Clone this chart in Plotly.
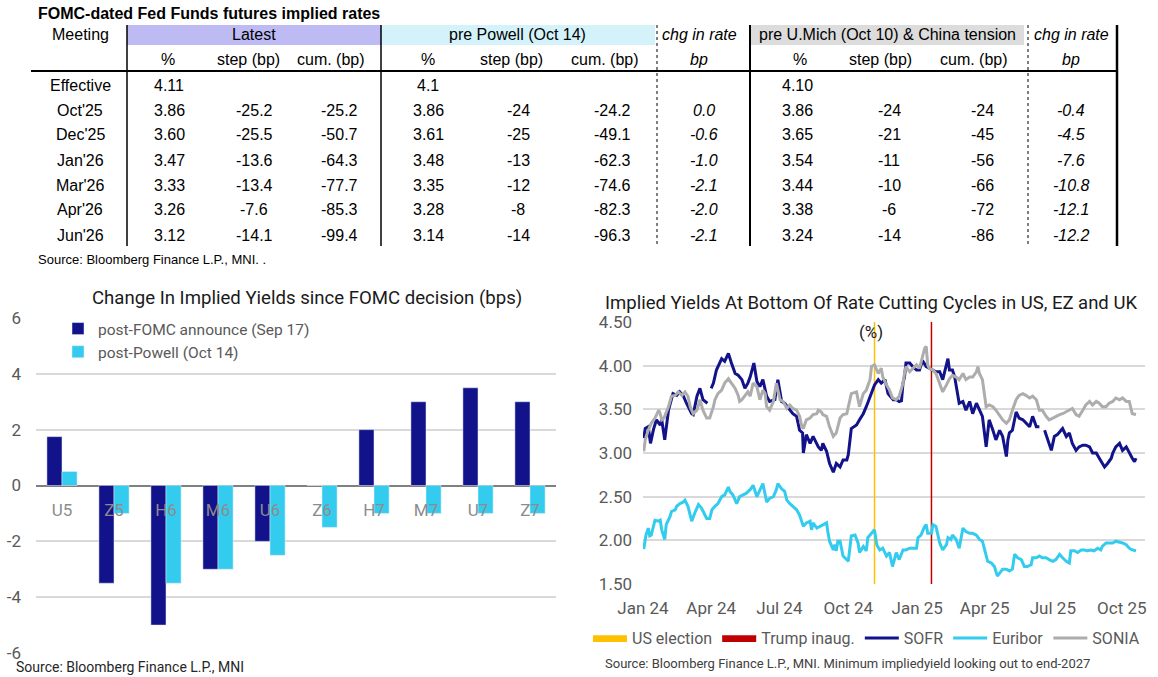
import plotly.graph_objects as go

W, H = 1158, 677

# ------------------------------------------------------------------ data: table
table_title = "FOMC-dated Fed Funds futures implied rates"
meeting_header = "Meeting"
group_headers = ["Latest", "pre Powell (Oct 14)", "chg in rate", "pre U.Mich (Oct 10) & China tension", "chg in rate"]
sub_headers = ["%", "step (bp)", "cum. (bp)", "%", "step (bp)", "cum. (bp)", "bp", "%", "step (bp)", "cum. (bp)", "bp"]
meetings = ["Effective", "Oct'25", "Dec'25", "Jan'26", "Mar'26", "Apr'26", "Jun'26"]
latest_pct = ["4.11", "3.86", "3.60", "3.47", "3.33", "3.26", "3.12"]
latest_step = ["", "-25.2", "-25.5", "-13.6", "-13.4", "-7.6", "-14.1"]
latest_cum = ["", "-25.2", "-50.7", "-64.3", "-77.7", "-85.3", "-99.4"]
powell_pct = ["4.1", "3.86", "3.61", "3.48", "3.35", "3.28", "3.14"]
powell_step = ["", "-24", "-25", "-13", "-12", "-8", "-14"]
powell_cum = ["", "-24.2", "-49.1", "-62.3", "-74.6", "-82.3", "-96.3"]
chg_vs_powell = ["", "0.0", "-0.6", "-1.0", "-2.1", "-2.0", "-2.1"]
umich_pct = ["4.10", "3.86", "3.65", "3.54", "3.44", "3.38", "3.24"]
umich_step = ["", "-24", "-21", "-11", "-10", "-6", "-14"]
umich_cum = ["", "-24", "-45", "-56", "-66", "-72", "-86"]
chg_vs_umich = ["", "-0.4", "-4.5", "-7.6", "-10.8", "-12.1", "-12.2"]
table_source = "Source: Bloomberg Finance L.P., MNI. ."

# ------------------------------------------------------------------ data: bar chart
bar_title = "Change In Implied Yields since FOMC decision (bps)"
contracts = ["U5", "Z5", "H6", "M6", "U6", "Z6", "H7", "M7", "U7", "Z7"]
post_fomc_name = "post-FOMC announce (Sep 17)"
post_fomc = [1.75, -3.5, -5.0, -3.0, -2.0, 0.0, 2.0, 3.0, 3.5, 3.0]
post_powell_name = "post-Powell (Oct 14)"
post_powell = [0.5, -1.0, -3.5, -3.0, -2.5, -1.5, -1.0, -1.0, -1.0, -1.0]
bar_ticks = [-6, -4, -2, 0, 2, 4, 6]
bar_tick_labels = ["-6", "-4", "-2", "0", "2", "4", "6"]
bar_source = "Source: Bloomberg Finance L.P., MNI"

# ------------------------------------------------------------------ data: line chart
line_title = "Implied Yields At Bottom Of Rate Cutting Cycles in US, EZ and UK"
line_unit = "(%)"
line_source = "Source: Bloomberg Finance L.P., MNI. Minimum impliedyield looking out to end-2027"
event_names = ["US election", "Trump inaug."]
event_dates = ["2024-11-05", "2025-01-20"]
line_x_range = ["2024-01-01", "2025-11-01"]
line_y_range = [1.5, 4.5]
line_x_ticks = ["2024-01-01", "2024-04-01", "2024-07-01", "2024-10-01",
                "2025-01-01", "2025-04-01", "2025-07-01", "2025-10-01"]

sofr = [
    ("2024-01-02", 3.17), ("2024-01-04", 3.28), ("2024-01-08", 3.30), ("2024-01-11", 3.11),
    ("2024-01-15", 3.27), ("2024-01-19", 3.38), ("2024-01-24", 3.32), ("2024-01-26", 3.38),
    ("2024-01-30", 3.15), ("2024-02-04", 3.49), ("2024-02-10", 3.68), ("2024-02-15", 3.66),
    ("2024-02-19", 3.70), ("2024-02-24", 3.65), ("2024-02-28", 3.57), ("2024-03-06", 3.45),
    ("2024-03-08", 3.44), ("2024-03-13", 3.65), ("2024-03-17", 3.74), ("2024-03-21", 3.61),
    ("2024-03-27", 3.57), ("2024-03-29", None), ("2024-04-01", 3.74), ("2024-04-04", 3.80),
    ("2024-04-08", 3.95), ("2024-04-15", 4.08), ("2024-04-19", 4.05), ("2024-04-24", 4.14),
    ("2024-04-28", 4.03), ("2024-05-03", 3.91), ("2024-05-07", 3.89), ("2024-05-12", 3.84),
    ("2024-05-16", 3.74), ("2024-05-20", 3.80), ("2024-05-23", 3.87), ("2024-05-28", 4.03),
    ("2024-06-01", 3.82), ("2024-06-05", 3.76), ("2024-06-09", 3.84), ("2024-06-14", 3.65),
    ("2024-06-18", 3.59), ("2024-06-25", 3.61), ("2024-06-29", 3.84), ("2024-07-04", 3.59),
    ("2024-07-08", 3.57), ("2024-07-15", 3.49), ("2024-07-19", 3.45), ("2024-07-24", 3.42),
    ("2024-07-28", 3.26), ("2024-08-01", 3.23), ("2024-08-02", 3.00), ("2024-08-06", 3.21),
    ("2024-08-11", 3.11), ("2024-08-15", 3.19), ("2024-08-22", 3.07), ("2024-08-26", 3.03),
    ("2024-08-28", 3.11), ("2024-09-02", 3.02), ("2024-09-06", 2.88), ("2024-09-11", 2.78),
    ("2024-09-15", 2.88), ("2024-09-20", 2.84), ("2024-09-24", 2.92), ("2024-09-29", 2.92),
    ("2024-10-01", 2.98), ("2024-10-05", 3.28), ("2024-10-12", 3.32), ("2024-10-16", 3.38),
    ("2024-10-21", 3.45), ("2024-10-25", 3.53), ("2024-11-01", 3.68), ("2024-11-05", 3.78),
    ("2024-11-10", 3.84), ("2024-11-14", 3.80), ("2024-11-19", 3.84), ("2024-11-23", 3.68),
    ("2024-11-30", 3.61), ("2024-12-04", 3.61), ("2024-12-08", 3.59), ("2024-12-11", 3.60),
    ("2024-12-13", 3.80), ("2024-12-15", 3.87), ("2024-12-17", 4.03), ("2024-12-22", 4.03),
    ("2024-12-26", 3.99), ("2024-12-31", 3.95), ("2025-01-04", 3.95), ("2025-01-08", 4.06),
    ("2025-01-13", 3.99), ("2025-01-17", 3.97), ("2025-01-22", 3.95), ("2025-01-26", 3.93),
    ("2025-01-31", 3.93), ("2025-02-04", 3.84), ("2025-02-06", 3.91), ("2025-02-11", 4.08),
    ("2025-02-13", 3.95), ("2025-02-17", 3.95), ("2025-02-20", 3.87), ("2025-02-22", 3.76),
    ("2025-02-26", 3.57), ("2025-03-03", 3.59), ("2025-03-07", 3.49), ("2025-03-12", 3.59),
    ("2025-03-16", 3.45), ("2025-03-21", 3.57), ("2025-03-25", 3.49), ("2025-03-29", 3.42),
    ("2025-04-03", 3.07), ("2025-04-07", 3.38), ("2025-04-12", 3.26), ("2025-04-16", 3.15),
    ("2025-04-21", 3.26), ("2025-04-25", 3.19), ("2025-04-30", 2.96), ("2025-05-02", 3.15),
    ("2025-05-04", 3.23), ("2025-05-08", 3.26), ("2025-05-13", 3.47), ("2025-05-17", 3.40),
    ("2025-05-22", 3.38), ("2025-05-26", 3.34), ("2025-05-31", 3.30), ("2025-06-04", 3.42),
    ("2025-06-09", 3.30), ("2025-06-13", 3.30), ("2025-06-16", None), ("2025-06-20", 3.26),
    ("2025-06-24", 3.15), ("2025-06-29", 3.03), ("2025-07-03", 3.19), ("2025-07-07", 3.21),
    ("2025-07-12", 3.26), ("2025-07-14", 3.28), ("2025-07-19", 3.19), ("2025-07-23", 3.23),
    ("2025-07-27", 3.11), ("2025-08-01", 3.03), ("2025-08-05", 3.07), ("2025-08-10", 3.09),
    ("2025-08-14", 3.09), ("2025-08-19", 3.07), ("2025-08-23", 3.00), ("2025-08-28", 3.00),
    ("2025-09-01", 2.94), ("2025-09-05", 2.88), ("2025-09-08", 2.84), ("2025-09-12", 2.88),
    ("2025-09-17", 2.94), ("2025-09-19", 3.00), ("2025-09-23", 3.07), ("2025-09-28", 3.11),
    ("2025-10-02", 3.03), ("2025-10-07", 3.07), ("2025-10-11", 3.00), ("2025-10-15", 2.94),
    ("2025-10-18", 2.90), ("2025-10-20", 2.94),
]

euribor = [
    ("2024-01-02", 1.90), ("2024-01-04", 2.05), ("2024-01-05", 2.06), ("2024-01-08", 2.14),
    ("2024-01-10", 2.05), ("2024-01-12", 2.06), ("2024-01-15", 2.16), ("2024-01-17", 2.23),
    ("2024-01-22", 2.22), ("2024-01-24", 2.23), ("2024-01-26", 2.12), ("2024-01-30", 2.01),
    ("2024-02-01", 2.18), ("2024-02-06", 2.27), ("2024-02-08", 2.33), ("2024-02-13", 2.35),
    ("2024-02-15", 2.39), ("2024-02-19", 2.42), ("2024-02-24", 2.44), ("2024-02-26", 2.46),
    ("2024-03-01", 2.39), ("2024-03-06", 2.22), ("2024-03-10", 2.31), ("2024-03-15", 2.41),
    ("2024-03-19", 2.37), ("2024-03-24", 2.27), ("2024-03-26", 2.25), ("2024-03-30", 2.25),
    ("2024-04-02", 2.35), ("2024-04-06", 2.39), ("2024-04-10", 2.42), ("2024-04-15", 2.50),
    ("2024-04-19", 2.52), ("2024-04-24", 2.61), ("2024-04-26", 2.56), ("2024-04-30", 2.52),
    ("2024-05-05", 2.42), ("2024-05-09", 2.50), ("2024-05-14", 2.52), ("2024-05-18", 2.54),
    ("2024-05-23", 2.58), ("2024-05-27", 2.63), ("2024-06-01", 2.50), ("2024-06-05", 2.58),
    ("2024-06-09", 2.65), ("2024-06-14", 2.44), ("2024-06-18", 2.48), ("2024-06-23", 2.50),
    ("2024-06-27", 2.58), ("2024-06-29", 2.65), ("2024-07-04", 2.59), ("2024-07-08", 2.56),
    ("2024-07-11", 2.46), ("2024-07-15", 2.42), ("2024-07-19", 2.39), ("2024-07-24", 2.35),
    ("2024-07-28", 2.29), ("2024-08-02", 2.16), ("2024-08-06", 2.20), ("2024-08-11", 2.22),
    ("2024-08-13", 2.12), ("2024-08-15", 2.20), ("2024-08-20", 2.14), ("2024-08-24", 2.16),
    ("2024-08-28", 2.18), ("2024-09-02", 2.20), ("2024-09-04", 2.08), ("2024-09-06", 1.99),
    ("2024-09-11", 1.89), ("2024-09-13", 1.95), ("2024-09-15", 1.88), ("2024-09-17", 1.99),
    ("2024-09-20", 1.99), ("2024-09-22", 1.89), ("2024-09-24", 1.82), ("2024-09-29", 1.78),
    ("2024-10-01", 1.76), ("2024-10-05", 2.05), ("2024-10-10", 2.06), ("2024-10-14", 1.97),
    ("2024-10-16", 1.86), ("2024-10-21", 1.93), ("2024-10-25", 1.88), ("2024-10-27", 2.03),
    ("2024-11-01", 2.08), ("2024-11-05", 2.12), ("2024-11-08", 1.95), ("2024-11-12", 1.89),
    ("2024-11-16", 1.91), ("2024-11-21", 1.82), ("2024-11-25", 1.86), ("2024-11-29", 1.70),
    ("2024-12-04", 1.86), ("2024-12-08", 1.78), ("2024-12-13", 1.89), ("2024-12-17", 1.89),
    ("2024-12-22", 1.91), ("2024-12-26", 1.91), ("2024-12-31", 1.91), ("2025-01-02", 2.03),
    ("2025-01-06", 2.06), ("2025-01-11", 2.16), ("2025-01-13", 2.18), ("2025-01-15", 2.08),
    ("2025-01-20", 2.08), ("2025-01-22", 2.18), ("2025-01-26", 2.16), ("2025-01-31", 1.97),
    ("2025-02-04", 1.89), ("2025-02-09", 1.95), ("2025-02-11", 2.03), ("2025-02-15", 2.01),
    ("2025-02-17", 2.06), ("2025-02-22", 2.01), ("2025-02-26", 1.91), ("2025-03-03", 2.14),
    ("2025-03-07", 2.10), ("2025-03-12", 2.08), ("2025-03-16", 2.08), ("2025-03-21", 2.06),
    ("2025-03-25", 2.01), ("2025-03-29", 1.99), ("2025-04-03", 1.80), ("2025-04-05", 1.76),
    ("2025-04-10", 1.74), ("2025-04-14", 1.70), ("2025-04-18", 1.59), ("2025-04-21", 1.63),
    ("2025-04-25", 1.67), ("2025-04-30", 1.67), ("2025-05-04", 1.65), ("2025-05-08", 1.67),
    ("2025-05-11", 1.84), ("2025-05-15", 1.80), ("2025-05-20", 1.78), ("2025-05-24", 1.70),
    ("2025-05-28", 1.70), ("2025-06-02", 1.72), ("2025-06-04", 1.80), ("2025-06-09", 1.80),
    ("2025-06-13", 1.82), ("2025-06-17", 1.80), ("2025-06-22", 1.80), ("2025-06-26", 1.78),
    ("2025-07-01", 1.76), ("2025-07-05", 1.78), ("2025-07-10", 1.84), ("2025-07-14", 1.80),
    ("2025-07-19", 1.76), ("2025-07-23", 1.74), ("2025-07-25", 1.88), ("2025-07-30", 1.88),
    ("2025-08-03", 1.86), ("2025-08-08", 1.89), ("2025-08-12", 1.89), ("2025-08-16", 1.88),
    ("2025-08-21", 1.89), ("2025-08-25", 1.88), ("2025-08-30", 1.91), ("2025-09-03", 1.89),
    ("2025-09-05", 1.93), ("2025-09-10", 1.97), ("2025-09-14", 1.97), ("2025-09-19", 1.97),
    ("2025-09-23", 1.99), ("2025-09-28", 1.98), ("2025-10-02", 1.97), ("2025-10-07", 1.95),
    ("2025-10-11", 1.91), ("2025-10-15", 1.89), ("2025-10-20", 1.88),
]

sonia = [
    ("2024-01-02", 3.02), ("2024-01-04", 3.15), ("2024-01-08", 3.26), ("2024-01-12", 3.34),
    ("2024-01-17", 3.40), ("2024-01-22", 3.49), ("2024-01-24", 3.45), ("2024-01-26", 3.38),
    ("2024-01-29", 3.40), ("2024-02-01", 3.47), ("2024-02-04", 3.53), ("2024-02-08", 3.65),
    ("2024-02-13", 3.66), ("2024-02-17", 3.70), ("2024-02-22", 3.66), ("2024-02-26", 3.70),
    ("2024-03-01", 3.65), ("2024-03-04", 3.53), ("2024-03-08", 3.45), ("2024-03-13", 3.49),
    ("2024-03-17", 3.61), ("2024-03-21", 3.49), ("2024-03-26", 3.40), ("2024-03-30", 3.40),
    ("2024-04-04", 3.53), ("2024-04-06", 3.61), ("2024-04-10", 3.68), ("2024-04-15", 3.72),
    ("2024-04-19", 3.80), ("2024-04-24", 3.85), ("2024-04-28", 3.80), ("2024-05-03", 3.74),
    ("2024-05-07", 3.66), ("2024-05-09", 3.59), ("2024-05-12", 3.61), ("2024-05-16", 3.65),
    ("2024-05-20", 3.70), ("2024-05-23", 3.65), ("2024-05-27", 3.80), ("2024-06-01", 3.76),
    ("2024-06-03", 3.70), ("2024-06-05", 3.61), ("2024-06-09", 3.72), ("2024-06-12", 3.68),
    ("2024-06-14", 3.53), ("2024-06-18", 3.49), ("2024-06-23", 3.59), ("2024-06-27", 3.80),
    ("2024-07-02", 3.61), ("2024-07-06", 3.59), ("2024-07-11", 3.51), ("2024-07-15", 3.55),
    ("2024-07-19", 3.51), ("2024-07-24", 3.49), ("2024-07-28", 3.42), ("2024-07-31", 3.30),
    ("2024-08-02", 3.28), ("2024-08-06", 3.38), ("2024-08-11", 3.40), ("2024-08-15", 3.44),
    ("2024-08-20", 3.45), ("2024-08-22", 3.49), ("2024-08-26", 3.47), ("2024-08-28", 3.44),
    ("2024-09-02", 3.42), ("2024-09-06", 3.30), ("2024-09-11", 3.19), ("2024-09-15", 3.23),
    ("2024-09-20", 3.40), ("2024-09-24", 3.44), ("2024-09-29", 3.45), ("2024-10-01", 3.53),
    ("2024-10-05", 3.68), ("2024-10-12", 3.70), ("2024-10-14", 3.61), ("2024-10-16", 3.53),
    ("2024-10-21", 3.68), ("2024-10-25", 3.72), ("2024-10-30", 3.84), ("2024-11-01", 3.99),
    ("2024-11-05", 4.01), ("2024-11-10", 3.91), ("2024-11-14", 3.97), ("2024-11-16", 3.87),
    ("2024-11-21", 3.78), ("2024-11-25", 3.72), ("2024-11-29", 3.63), ("2024-12-04", 3.61),
    ("2024-12-08", 3.65), ("2024-12-13", 3.80), ("2024-12-15", 3.91), ("2024-12-17", 3.99),
    ("2024-12-22", 3.93), ("2024-12-26", 3.97), ("2024-12-31", 4.01), ("2025-01-04", 3.97),
    ("2025-01-08", 4.10), ("2025-01-11", 4.20), ("2025-01-13", 4.22), ("2025-01-15", 4.01),
    ("2025-01-17", 3.97), ("2025-01-22", 3.95), ("2025-01-26", 3.91), ("2025-01-31", 3.80),
    ("2025-02-04", 3.70), ("2025-02-09", 3.78), ("2025-02-13", 3.85), ("2025-02-17", 3.89),
    ("2025-02-22", 3.87), ("2025-02-26", 3.84), ("2025-03-03", 3.91), ("2025-03-07", 3.84),
    ("2025-03-12", 3.87), ("2025-03-16", 3.87), ("2025-03-21", 3.93), ("2025-03-23", 3.99),
    ("2025-03-25", 3.91), ("2025-03-29", 3.84), ("2025-04-03", 3.53), ("2025-04-07", 3.55),
    ("2025-04-12", 3.53), ("2025-04-16", 3.49), ("2025-04-21", 3.42), ("2025-04-25", 3.38),
    ("2025-04-30", 3.34), ("2025-05-04", 3.38), ("2025-05-08", 3.49), ("2025-05-13", 3.61),
    ("2025-05-17", 3.66), ("2025-05-22", 3.68), ("2025-05-26", 3.66), ("2025-05-31", 3.63),
    ("2025-06-04", 3.65), ("2025-06-09", 3.61), ("2025-06-13", 3.49), ("2025-06-17", 3.49),
    ("2025-06-22", 3.42), ("2025-06-26", 3.38), ("2025-07-01", 3.40), ("2025-07-05", 3.42),
    ("2025-07-10", 3.44), ("2025-07-14", 3.45), ("2025-07-19", 3.47), ("2025-07-23", 3.49),
    ("2025-07-27", 3.51), ("2025-08-01", 3.44), ("2025-08-05", 3.42), ("2025-08-10", 3.49),
    ("2025-08-14", 3.55), ("2025-08-19", 3.59), ("2025-08-23", 3.55), ("2025-08-28", 3.59),
    ("2025-09-01", 3.57), ("2025-09-05", 3.53), ("2025-09-10", 3.53), ("2025-09-14", 3.57),
    ("2025-09-19", 3.59), ("2025-09-23", 3.63), ("2025-09-28", 3.61), ("2025-10-02", 3.63),
    ("2025-10-07", 3.59), ("2025-10-11", 3.59), ("2025-10-13", 3.53), ("2025-10-15", 3.45),
    ("2025-10-20", 3.44),
]

# ------------------------------------------------------------------ styling / layout constants
def px(x):
    return x / W


def py(y):
    return 1 - y / H


TFONT = "Liberation Sans"
CFONT = "Roboto"
NAVY = "#12128A"
CYAN = "#33CCEE"
GREY_LINE = "#ADADAD"
GRID = "#D9D9D9"
TICK = "#595959"

fig = go.Figure()

# ------------------------------------------------------------------ bar chart
fig.add_trace(go.Bar(x=contracts, y=post_fomc, name=post_fomc_name, marker_color=NAVY,
                     xaxis="x", yaxis="y", legend="legend"))
fig.add_trace(go.Bar(x=contracts, y=post_powell, name=post_powell_name, marker_color=CYAN,
                     xaxis="x", yaxis="y", legend="legend"))

bar_dom_y = [py(653), py(318)]
bar_zero_pos = (bar_dom_y[0] + bar_dom_y[1]) / 2

# ------------------------------------------------------------------ line chart
ev_colors = ["#FFC000", "#C00000"]
for name, d, c in zip(event_names, event_dates, ev_colors):
    fig.add_trace(go.Scatter(x=[d, d], y=line_y_range, mode="lines", fill="toself",
                             fillcolor=c, line=dict(color=c, width=1.5), name=name,
                             xaxis="x2", yaxis="y2", legend="legend2", hoverinfo="skip"))

for series, name, color in [(sofr, "SOFR", NAVY), (euribor, "Euribor", CYAN), (sonia, "SONIA", GREY_LINE)]:
    xs = [d for d, v in series]
    ys = [v for d, v in series]
    fig.add_trace(go.Scatter(x=xs, y=ys, mode="lines", name=name,
                             line=dict(color=color, width=3), connectgaps=False,
                             xaxis="x2", yaxis="y2", legend="legend2"))

# ------------------------------------------------------------------ table (annotations + shapes)
ann = []
shapes = []


def text(t, x, y, size, color="#000000", family=TFONT, xanchor="center"):
    ann.append(dict(text=t, x=px(x), y=py(y), xref="paper", yref="paper", xanchor=xanchor,
                    yanchor="middle", showarrow=False, font=dict(family=family, size=size, color=color)))


text("<b>" + table_title + "</b>", 36, 13, 16, xanchor="left")
text(meeting_header, 80, 35, 16)

GROUP_SPANS = [(127, 381, "#BDBAF4"), (381, 655, "#D4F2FA"), (657, 750, None), (750, 1024, "#DCDCDC"), (1028, 1116, None)]
GROUP_X = [254, 517, 699, 887, 1071]
for (x0, x1, col), gx, gtxt, it in zip(GROUP_SPANS, GROUP_X, group_headers, [False, False, True, False, True]):
    if col:
        shapes.append(dict(type="rect", xref="paper", yref="paper", x0=px(x0), x1=px(x1), y0=py(45), y1=py(25),
                           fillcolor=col, line=dict(width=0), layer="below"))
    text(("<i>%s</i>" % gtxt) if it else gtxt, gx, 35, 16)

SUB_X = [168, 249, 331, 428, 511, 605, 699, 800, 880, 974, 1071]
ITALIC_COLS = {6, 10}
for i, (sx, st) in enumerate(zip(SUB_X, sub_headers)):
    text(("<i>%s</i>" % st) if i in ITALIC_COLS else st, sx, 60, 16)

value_columns = [latest_pct, latest_step, latest_cum, powell_pct, powell_step, powell_cum,
                 chg_vs_powell, umich_pct, umich_step, umich_cum, chg_vs_umich]
VAL_X = [169, 254, 339, 428, 518, 612, 704, 797, 889, 982, 1071]
ROW_Y0, ROW_DY = 85, 25
for r, m in enumerate(meetings):
    yy = ROW_Y0 + r * ROW_DY
    text(m, 80, yy, 16)
    for c, (col, vx) in enumerate(zip(value_columns, VAL_X)):
        t = col[r]
        if t:
            text(("<i>%s</i>" % t) if c in ITALIC_COLS else t, vx, yy, 16)

text(table_source, 36, 259, 13, xanchor="left")

# table rules
shapes.append(dict(type="line", xref="paper", yref="paper", x0=px(31), x1=px(1118), y0=py(71), y1=py(71),
                   line=dict(color="#000000", width=2)))
for lx, dash, wdt in [(127, "solid", 1.5), (381, "solid", 1.5), (657, "dot", 1), (750, "solid", 2),
                      (1028, "dot", 1), (1117, "solid", 2.5)]:
    shapes.append(dict(type="line", xref="paper", yref="paper", x0=px(lx), x1=px(lx), y0=py(25), y1=py(246),
                       line=dict(color="#000000", width=wdt, dash=dash)))

# chart titles / sources
text(bar_title, 307, 298, 18.6, color="#1A1A1A", family=CFONT)
text(bar_source, 14, 667, 14, color="#262626", family=CFONT, xanchor="left")
text(line_title, 871, 303, 18.5, color="#1A1A1A", family=CFONT)
text(line_unit, 871, 332, 17, color="#1A1A1A", family=CFONT)
text(line_source, 603, 663, 13, color="#404040", family=CFONT, xanchor="left")

fig.update_layout(
    width=W, height=H, margin=dict(l=0, r=0, t=0, b=0, autoexpand=False),
    paper_bgcolor="white", plot_bgcolor="white",
    font=dict(family=CFONT, color=TICK),
    barmode="group", bargap=0.42, bargroupgap=0.0,
    showlegend=True,
    xaxis=dict(domain=[px(36), px(556)], anchor="free", position=bar_zero_pos, type="category",
               range=[-0.5, len(contracts) - 0.5], automargin=False,
               showline=False, ticks="", showgrid=False, zeroline=False,
               tickfont=dict(family=CFONT, size=17, color="#8C8C8C"), ticklabelstandoff=12),
    yaxis=dict(domain=bar_dom_y, range=[-6, 6], tickvals=bar_ticks, ticktext=bar_tick_labels,
               automargin=False, showgrid=True, gridcolor=GRID, gridwidth=2, zeroline=True,
               zerolinecolor="#808080", zerolinewidth=2, showline=False, ticks="",
               tickfont=dict(family=CFONT, size=17, color=TICK), ticklabelstandoff=14),
    xaxis2=dict(domain=[px(643), px(1145)], anchor="y2", type="date", range=line_x_range,
                tickvals=line_x_ticks, tickformat="%b %y", showgrid=False, showline=False, ticks="",
                automargin=False, zeroline=False,
                tickfont=dict(family=CFONT, size=17, color=TICK), ticklabelstandoff=12),
    yaxis2=dict(domain=[py(584), py(322)], anchor="x2", range=line_y_range, dtick=0.5, tickformat=".2f",
                automargin=False, showgrid=True, gridcolor=GRID, gridwidth=2, zeroline=False,
                showline=False, ticks="",
                tickfont=dict(family=CFONT, size=17, color=TICK), ticklabelstandoff=10),
    legend=dict(x=px(58), y=py(312), xanchor="left", yanchor="top", orientation="v",
                bgcolor="rgba(0,0,0,0)", font=dict(family=CFONT, size=15.5, color=TICK),
                tracegroupgap=0, traceorder="normal"),
    legend2=dict(x=px(588), y=py(638), xanchor="left", yanchor="middle", orientation="h",
                 bgcolor="rgba(0,0,0,0)", font=dict(family=CFONT, size=16, color=TICK),
                 traceorder="normal", itemwidth=34),
    annotations=ann, shapes=shapes,
)

fig.write_html("out.html", config={"displayModeBar": False},
               post_script="document.body.style.margin='0px';")
